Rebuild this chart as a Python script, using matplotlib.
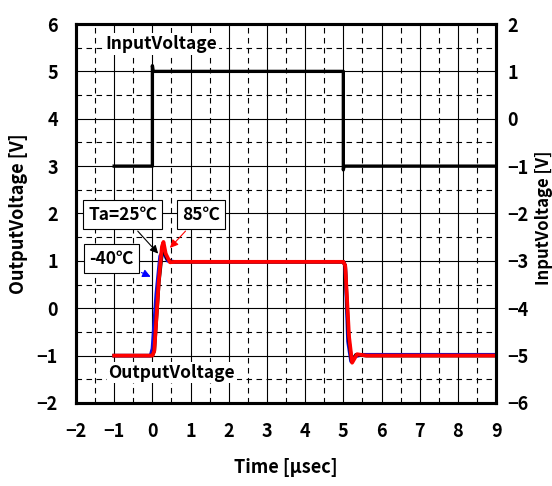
import matplotlib
matplotlib.use("Agg")
import matplotlib.pyplot as plt
from matplotlib.ticker import MultipleLocator

plt.rcParams['font.family'] = ['Noto Sans CJK JP', 'DejaVu Sans']
plt.rcParams['font.weight'] = 'bold'
plt.rcParams['axes.labelweight'] = 'bold'

# input voltage (right axis, V)
t_in = [-1.0, 0.0, 0.0, 0.02, 5.0, 5.0, 5.02, 9.0]
v_in = [-1.0, -1.0, 1.12, 1.0, 1.0, -1.08, -1.0, -1.0]

# output voltage (left axis, V) for three temperatures
t_m40 = [-1.0, -0.05, 0.0, 0.1, 0.2, 0.27, 0.4, 0.6, 5.0, 5.05, 5.12, 5.2, 5.3, 5.5, 9.0]
v_m40 = [-1.0, -1.0, -0.85, 0.3, 1.1, 1.2, 1.0, 0.98, 0.98, 0.9, -0.7, -1.12, -1.02, -0.98, -0.98]

t_25 = [-1.0, 0.0, 0.05, 0.17, 0.25, 0.3, 0.38, 0.5, 5.0, 5.05, 5.14, 5.22, 5.33, 5.6, 9.0]
v_25 = [-1.0, -1.0, -0.9, 0.55, 1.15, 1.25, 1.05, 0.98, 0.98, 0.9, -0.65, -1.13, -0.98, -1.0, -1.0]

t_85 = [-1.0, 0.0, 0.05, 0.17, 0.25, 0.29, 0.35, 0.46, 0.6, 5.0, 5.05, 5.15, 5.23, 5.36, 5.6, 9.0]
v_85 = [-1.0, -1.0, -0.9, 0.6, 1.3, 1.4, 1.15, 0.97, 0.98, 0.98, 0.9, -0.6, -1.15, -0.97, -1.0, -1.0]

fig = plt.figure(figsize=(5.52, 4.86), dpi=100)
ax = fig.add_axes([0.1377, 0.1708, 0.761, 0.7798])
ax2 = ax.twinx()

ax.set_xlim(-2, 9)
ax.set_ylim(-2, 6)
ax2.set_ylim(-6, 2)

ax.xaxis.set_major_locator(MultipleLocator(1))
ax.xaxis.set_minor_locator(MultipleLocator(0.5))
ax.yaxis.set_major_locator(MultipleLocator(1))
ax.yaxis.set_minor_locator(MultipleLocator(0.5))
ax2.yaxis.set_major_locator(MultipleLocator(1))

ax.grid(which='major', color='black', lw=0.8, ls='-')
ax.grid(which='minor', color='black', lw=0.8, ls=(0, (5, 4)))
ax.set_axisbelow(True)

ax.tick_params(which='both', length=0, labelsize=13)
ax.tick_params(axis='x', pad=14)
ax.tick_params(axis='y', pad=13)
ax2.tick_params(which='both', length=0, labelsize=13, pad=8)

for a in (ax, ax2):
    for s in a.spines.values():
        s.set_linewidth(2.2)

# curves: left axis, input drawn on right axis
ax2.plot(t_in, v_in, color='black', lw=2.4, zorder=3)
ax.plot(t_m40, v_m40, color='#1010e0', lw=2.5, zorder=3)
ax.plot(t_25, v_25, color='black', lw=2.5, zorder=3)
ax.plot(t_85, v_85, color='#ff0000', lw=2.7, zorder=4)

box = dict(boxstyle='square,pad=0.3', fc='white', ec='black', lw=0.8)
ax.annotate('Ta=25℃', xy=(0.2, 1.11), xytext=(-0.78, 1.98), ha='center', va='center',
            fontsize=12.5, bbox=box,
            arrowprops=dict(arrowstyle='-|>', color='black', lw=0.8, mutation_scale=12))
ax.annotate('85℃', xy=(0.41, 1.23), xytext=(1.27, 1.98), ha='center', va='center',
            fontsize=12.5, bbox=box,
            arrowprops=dict(arrowstyle='-|>', color='red', lw=0.8, mutation_scale=12))
ax.annotate('-40℃', xy=(0.02, 0.64), xytext=(-1.08, 1.05), ha='center', va='center',
            fontsize=12.5, bbox=box,
            arrowprops=dict(arrowstyle='-|>', color='blue', lw=0.8, mutation_scale=12))

plain = dict(boxstyle='square,pad=0.1', fc='white', ec='none')
ax.text(0.23, 5.58, 'InputVoltage', ha='center', va='center', fontsize=12.5, bbox=plain)
ax.text(0.51, -1.36, 'OutputVoltage', ha='center', va='center', fontsize=12.5, bbox=plain)

ax.set_xlabel('Time [µsec]', fontsize=13, labelpad=12)
ax.set_ylabel('OutputVoltage [V]', fontsize=13, va='center')
ax.yaxis.set_label_coords(-0.138, 0.5)
ax2.set_ylabel('InputVoltage [V]', fontsize=12, rotation=90, va='center')
ax2.yaxis.set_label_coords(1.113, 0.49)

fig.savefig('out.png', dpi=100)
